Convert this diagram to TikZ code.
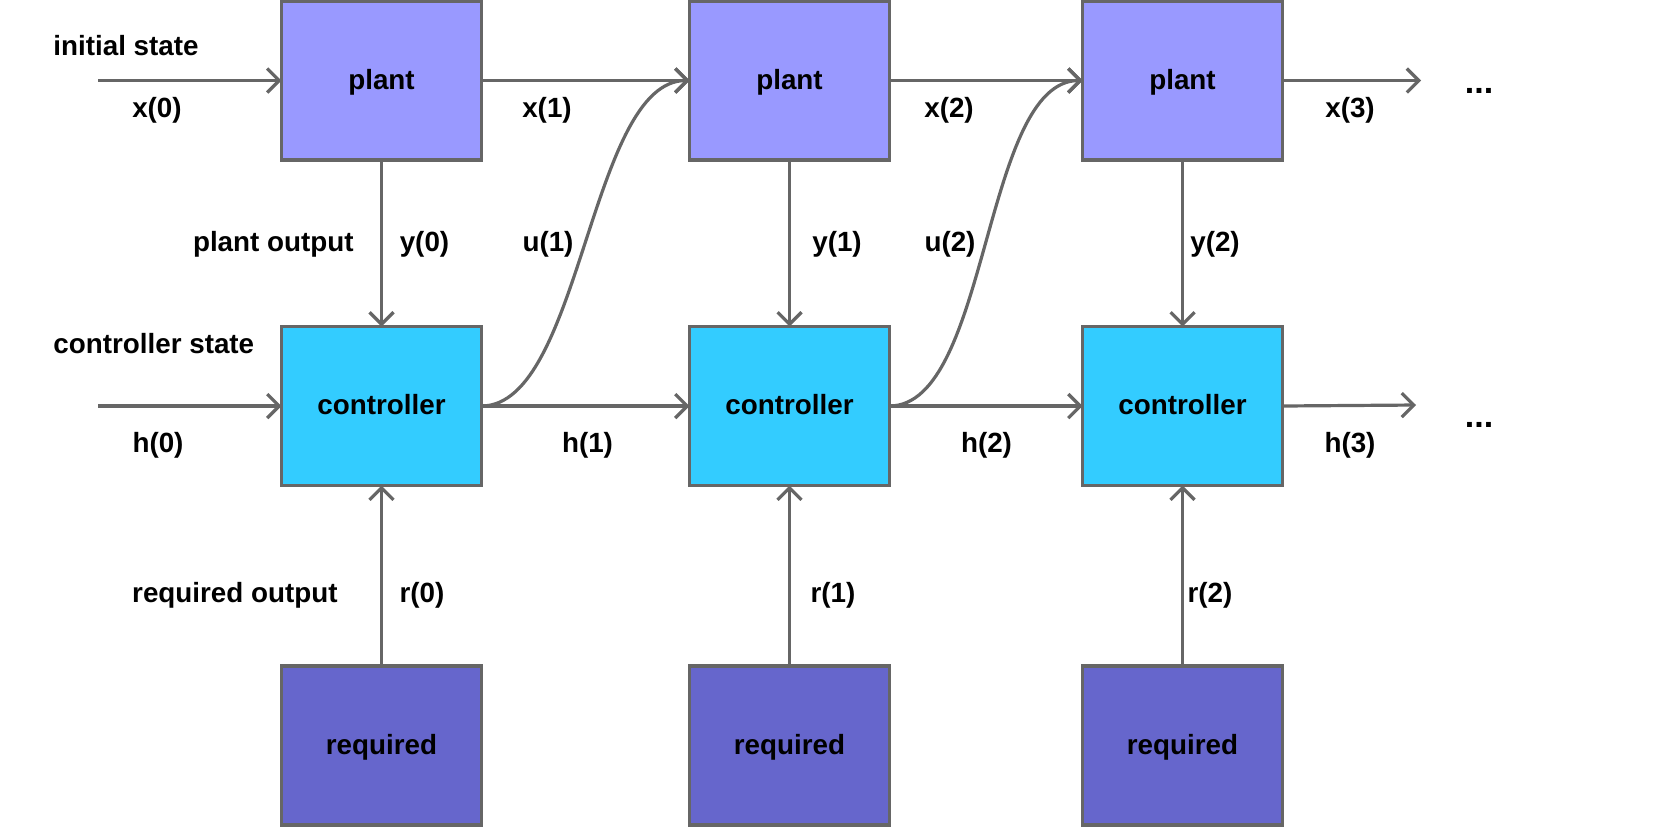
\documentclass[tikz,border=0pt]{standalone}
\usepackage{fontspec}
\setmainfont{Liberation Sans}
\usetikzlibrary{arrows.meta}
\definecolor{plantc}{HTML}{9999FF}
\definecolor{ctrlc}{HTML}{33CCFF}
\definecolor{reqc}{HTML}{6666CC}
\definecolor{bordc}{HTML}{666666}
\begin{document}
\begin{tikzpicture}[x=0.5pt,y=-0.5pt,
  font=\fontsize{13.9}{16}\selectfont\bfseries,
  box/.style={draw=bordc, line width=1.6pt, minimum width=100pt, minimum height=79.5pt, inner sep=0pt, outer sep=0pt, text height=0.86em, text depth=0pt},
  conn/.style={draw=bordc, line width=1.6pt, -{Straight Barb[length=6pt,width=12pt]}},
  lab/.style={inner sep=0pt}]
\useasboundingbox (0,0) rectangle (1658,826);
% boxes
\node[box, fill=plantc] (p0) at (381.5,80.5) {plant};
\node[box, fill=plantc] (p1) at (789.5,80.5) {plant};
\node[box, fill=plantc] (p2) at (1182.5,80.5) {plant};
\node[box, fill=ctrlc] (c0) at (381.5,406) {controller};
\node[box, fill=ctrlc] (c1) at (789.5,406) {controller};
\node[box, fill=ctrlc] (c2) at (1182.5,406) {controller};
\node[box, fill=reqc] (r0) at (381.5,745.5) {required};
\node[box, fill=reqc] (r1) at (789.5,745.5) {required};
\node[box, fill=reqc] (r2) at (1182.5,745.5) {required};
% free ends
\coordinate (inp) at (98,80.5);
\coordinate (inc) at (98,406);
\coordinate (outp) at (1421,80.5);
\coordinate (outc) at (1416,405);
% horizontal connectors
\draw[conn] (inp) -- (p0.west);
\draw[conn] (p0.east) -- (p1.west);
\draw[conn] (p1.east) -- (p2.west);
\draw[conn] (p2.east) -- (outp);
\draw[conn] (inc) -- (c0.west);
\draw[conn] (c0.east) -- (c1.west);
\draw[conn] (c1.east) -- (c2.west);
\draw[conn] (c2.east) -- (outc);
% vertical connectors
\draw[conn] (p0.south) -- (c0.north);
\draw[conn] (p1.south) -- (c1.north);
\draw[conn] (p2.south) -- (c2.north);
\draw[conn] (r0.north) -- (c0.south);
\draw[conn] (r1.north) -- (c1.south);
\draw[conn] (r2.north) -- (c2.south);
% control curves
\draw[conn] (c0.east) .. controls +(100,0) and +(-100,0) .. (p1.west);
\draw[conn] (c1.east) .. controls +(100,0) and +(-100,0) .. (p2.west);
% labels
\node[lab, anchor=west] (lis) at (53,46) {initial state};
\node[lab, anchor=west] (lcs) at (53,344) {controller state};
\node[lab, anchor=east] (lpo) at (354,244) {plant output};
\node[lab, anchor=east] (lro) at (338,595) {required output};
\node[lab] (lx0) at (157,110) {x(0)};
\node[lab] (lx1) at (547,110) {x(1)};
\node[lab] (lx2) at (949,110) {x(2)};
\node[lab] (lx3) at (1350,110) {x(3)};
\node[lab] (ly0) at (424.5,244) {y(0)};
\node[lab] (lu1) at (548,244) {u(1)};
\node[lab] (ly1) at (837,244) {y(1)};
\node[lab] (lu2) at (950,244) {u(2)};
\node[lab] (ly2) at (1215,244) {y(2)};
\node[lab] (lh0) at (158,445) {h(0)};
\node[lab] (lh1) at (587.5,445) {h(1)};
\node[lab] (lh2) at (986.5,445) {h(2)};
\node[lab] (lh3) at (1350,445) {h(3)};
\node[lab] (lr0) at (422,595) {r(0)};
\node[lab] (lr1) at (833,595) {r(1)};
\node[lab] (lr2) at (1210,595) {r(2)};
\node[lab, font=\fontsize{17}{20}\selectfont\bfseries] (d1) at (1479,91) {...};
\node[lab, font=\fontsize{17}{20}\selectfont\bfseries] (d2) at (1479,424.5) {...};
\end{tikzpicture}
\end{document}
